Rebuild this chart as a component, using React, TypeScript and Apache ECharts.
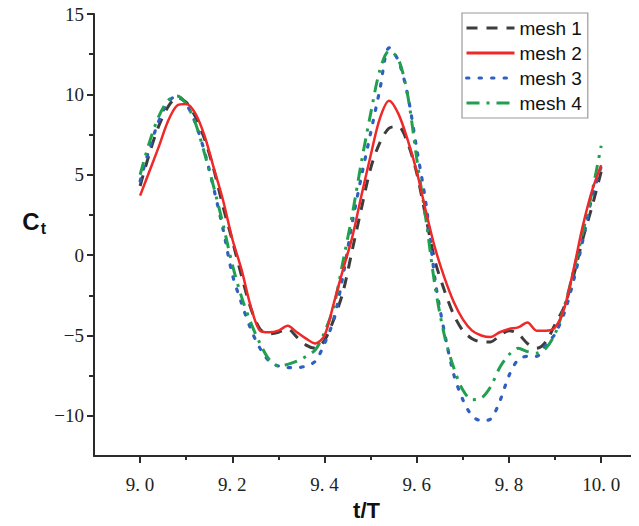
import React, { useEffect, useRef } from "react";
import * as echarts from "echarts";

// t/T sample positions (shared by all series)
const tValues = [
  9.0, 9.02, 9.04, 9.06, 9.08, 9.1, 9.12, 9.14, 9.16, 9.18,
  9.2, 9.22, 9.24, 9.26, 9.28, 9.3, 9.32, 9.34, 9.36, 9.38,
  9.4, 9.42, 9.44, 9.46, 9.48, 9.5, 9.52, 9.54, 9.56, 9.58,
  9.6, 9.62, 9.64, 9.66, 9.68, 9.7, 9.72, 9.74, 9.76, 9.78,
  9.8, 9.82, 9.84, 9.86, 9.88, 9.9, 9.92, 9.94, 9.96, 9.98, 10.0,
];

const mesh1 = [
  4.3, 6.3, 8.0, 9.2, 9.8, 9.5, 8.6, 7.2, 5.3, 3.0,
  0.9, -1.3, -3.3, -4.6, -4.9, -4.8, -4.6, -5.1, -5.6, -5.8,
  -5.3, -4.0, -2.3, 0.3, 2.9, 5.4, 7.0, 7.9, 8.0, 7.0,
  5.1, 2.3, -0.4, -2.2, -3.7, -4.7, -5.2, -5.4, -5.4, -5.0,
  -4.7, -4.9, -5.5, -5.8, -5.4, -4.3, -3.2, -1.3, 1.0, 3.0, 5.2,
];

const mesh2 = [
  3.7, 5.2, 6.7, 8.3, 9.3, 9.4, 8.8, 7.4, 5.4, 3.4,
  1.0, -0.9, -3.2, -4.7, -4.8, -4.7, -4.4, -4.8, -5.2, -5.5,
  -5.0, -3.0, -0.9, 1.1, 3.7, 6.2, 8.5, 9.6, 8.8, 7.2,
  5.2, 2.7, 0.4, -1.4, -2.9, -4.0, -4.7, -5.0, -5.1, -4.8,
  -4.6, -4.5, -4.2, -4.7, -4.7, -4.5, -3.3, -0.9, 1.8, 4.0, 5.6,
];

const mesh3 = [
  4.6, 6.6, 8.3, 9.5, 9.9, 9.4, 8.2, 6.4, 4.1, 1.6,
  -1.2, -3.0, -4.6, -5.8, -6.6, -6.9, -7.0, -7.0, -6.9, -6.6,
  -5.5, -4.0, -1.3, 2.0, 4.9, 7.6, 10.3, 12.9, 12.1, 10.0,
  6.6, 3.2, -1.6, -4.8, -7.4, -9.0, -10.0, -10.3, -10.2, -9.1,
  -7.5, -6.5, -6.3, -6.3, -5.6, -4.9, -3.6, -1.6, 0.9, 3.6, 5.5,
];

const mesh4 = [
  5.0, 7.0, 8.6, 9.6, 9.9, 9.4, 8.2, 6.3, 4.2, 1.9,
  -0.6, -2.6, -4.2, -5.5, -6.5, -6.9, -6.8, -6.6, -6.3, -5.9,
  -4.8, -3.2, -0.4, 2.5, 5.8, 8.8, 11.5, 12.7, 12.2, 10.0,
  6.0, 2.2, -2.0, -5.0, -7.0, -8.4, -9.0, -8.9, -8.2, -7.0,
  -6.2, -5.8, -6.0, -6.1, -5.8, -4.9, -3.2, -1.0, 1.4, 3.9, 6.8,
];

const seriesNames = ["mesh 1", "mesh 2", "mesh 3", "mesh 4"];
const xTickLabels = [9.0, 9.2, 9.4, 9.6, 9.8, 10.0];
const xMinorTicks = [9.1, 9.3, 9.5, 9.7, 9.9];
const yTickLabels = [-10, -5, 0, 5, 10, 15];
const yMinorTicks = [-7.5, -2.5, 2.5, 7.5, 12.5];

const X_MIN = 8.9;
const X_MAX = 10.082;
const Y_MIN = -12.5;
const Y_MAX = 15;

const AXIS_COLOR = "#2b2b2b";

export default function App() {
  const ref = useRef<HTMLDivElement>(null);

  useEffect(() => {
    if (!ref.current) return;
    const chart = echarts.init(ref.current, null, { renderer: "svg" });
    const pairs = (vals: number[]) => tValues.map((t, i) => [t, vals[i]]);

    const styles = [
      { color: "#3d3d3d", type: [11, 9], width: 3, cap: "butt" },
      { color: "#f02828", type: "solid", width: 2.5, cap: "butt" },
      { color: "#2f5fc0", type: [2.5, 10], width: 3.2, cap: "round" },
      { color: "#20a04e", type: [13, 7, 3, 7], width: 3, cap: "butt" },
    ];
    const datas = [mesh1, mesh2, mesh3, mesh4];

    chart.setOption({
      animation: false,
      backgroundColor: "#ffffff",
      grid: { left: 94, top: 14, right: 0, bottom: 67, containLabel: false },
      legend: {
        data: seriesNames,
        orient: "vertical",
        left: 462,
        top: 13,
        padding: [5, 6, 5, 3],
        itemWidth: 48,
        itemHeight: 14,
        itemGap: 5,
        borderColor: "#9a9a9a",
        borderWidth: 1.2,
        itemStyle: { opacity: 0 },
        lineStyle: { width: 3 },
        textStyle: {
          fontFamily: "Liberation Sans, Arial, sans-serif",
          fontSize: 19,
          lineHeight: 20,
          color: "#111",
        },
      },
      xAxis: [
        {
          type: "value",
          min: X_MIN,
          max: X_MAX,
          name: "t/T",
          nameLocation: "middle",
          nameGap: 43,
          nameTextStyle: {
            fontFamily: "Liberation Sans, Arial, sans-serif",
            fontWeight: "bold",
            fontSize: 22,
            color: "#111",
          },
          axisLine: { show: true, onZero: false, lineStyle: { color: AXIS_COLOR, width: 2 } },
          axisTick: {
            show: true,
            customValues: xTickLabels,
            length: 7,
            lineStyle: { color: AXIS_COLOR, width: 2 },
          },
          axisLabel: {
            customValues: xTickLabels,
            formatter: (v: number) => v.toFixed(1).replace(".", ". "),
            fontFamily: "Liberation Serif, Times New Roman, serif",
            fontSize: 19,
            color: "#222",
            margin: 19,
          },
          splitLine: { show: false },
        },
        {
          type: "value",
          min: X_MIN,
          max: X_MAX,
          position: "bottom",
          axisLine: { show: false, onZero: false },
          axisTick: {
            show: true,
            customValues: xMinorTicks,
            length: 4,
            lineStyle: { color: AXIS_COLOR, width: 2 },
          },
          axisLabel: { show: false },
          splitLine: { show: false },
        },
      ],
      yAxis: [
        {
          type: "value",
          min: Y_MIN,
          max: Y_MAX,
          name: "{c|C}{t|t}",
          nameLocation: "middle",
          nameRotate: 0,
          nameGap: 48,
          nameTextStyle: {
            padding: [0, 0, 28, 0],
            rich: {
              c: {
                fontFamily: "Liberation Sans, Arial, sans-serif",
                fontWeight: "bold",
                fontSize: 24,
                color: "#111",
                lineHeight: 28,
              },
              t: {
                fontFamily: "Liberation Sans, Arial, sans-serif",
                fontWeight: "bold",
                fontSize: 16,
                color: "#111",
                padding: [14, 0, 0, 1],
                lineHeight: 28,
              },
            },
          },
          axisLine: { show: true, onZero: false, lineStyle: { color: AXIS_COLOR, width: 2 } },
          axisTick: {
            show: true,
            customValues: yTickLabels,
            length: 7,
            lineStyle: { color: AXIS_COLOR, width: 2 },
          },
          axisLabel: {
            customValues: yTickLabels,
            formatter: (v: number) => (v < 0 ? "\u2212" + Math.abs(v) : String(v)),
            fontFamily: "Liberation Serif, Times New Roman, serif",
            fontSize: 19,
            color: "#222",
            margin: 10,
          },
          splitLine: { show: false },
        },
        {
          type: "value",
          min: Y_MIN,
          max: Y_MAX,
          position: "left",
          axisLine: { show: false, onZero: false },
          axisTick: {
            show: true,
            customValues: yMinorTicks,
            length: 5,
            lineStyle: { color: AXIS_COLOR, width: 2 },
          },
          axisLabel: { show: false },
          splitLine: { show: false },
        },
      ],
      series: datas.map((d, i) => ({
        name: seriesNames[i],
        type: "line",
        xAxisIndex: 0,
        yAxisIndex: 0,
        data: pairs(d),
        smooth: 0.3,
        showSymbol: false,
        symbol: "none",
        color: styles[i].color,
        lineStyle: {
          color: styles[i].color,
          width: styles[i].width,
          type: styles[i].type,
          cap: styles[i].cap,
        },
        z: i === 1 ? 3 : 2,
      })),
    });

    return () => chart.dispose();
  }, []);

  return <div ref={ref} style={{ width: 639, height: 526, marginLeft: -8, marginTop: -8 }} />;
}
